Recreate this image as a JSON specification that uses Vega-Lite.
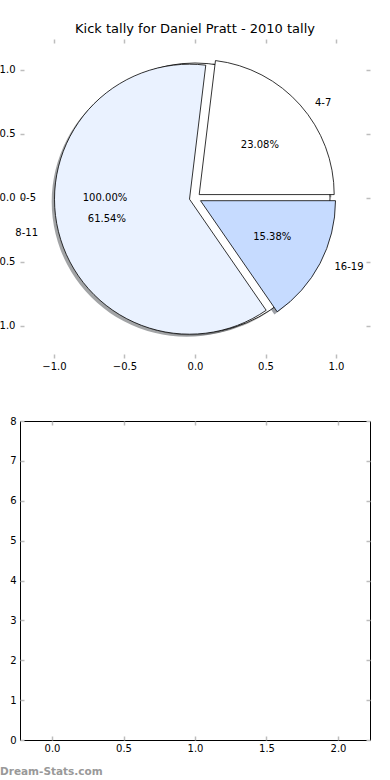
{
  "$schema": "https://vega.github.io/schema/vega-lite/v6.json",
  "autosize": {"type": "none"},
  "padding": {"left": 20, "top": 39, "right": 20, "bottom": 40},
  "params": [{"name": "width", "value": 350}, {"name": "height", "value": 701}],
  "background": "white",
  "datasets": {
    "pie": [
      {"label": "4-7", "value": 3, "pct": "23.08%", "slice": 1},
      {"label": "8-11", "value": 8, "pct": "61.54%", "slice": 2},
      {"label": "16-19", "value": 2, "pct": "15.38%", "slice": 3}
    ],
    "whole": [
      {"label": "0-5", "pct": "100.00%"}
    ]
  },
  "config": {
    "font": "DejaVu Sans",
    "axis": {
      "domain": false, "grid": false, "title": null,
      "tickColor": "#bdbdbd", "tickWidth": 1.5, "tickSize": -4,
      "labelFontSize": 10, "labelColor": "black", "labelFont": "DejaVu Sans",
      "labelFlush": false, "labelOverlap": false
    }
  },
  "vconcat": [
    {
      "width": 350,
      "height": 319,
      "view": {"stroke": null},
      "title": {"text": "Kick tally for Daniel Pratt - 2010 tally", "fontSize": 13, "font": "DejaVu Sans", "fontWeight": "normal", "color": "black", "offset": 2},
      "encoding": {
        "x": {"datum": 0, "type": "quantitative", "scale": {"domain": [-1.241, 1.241], "nice": false, "zero": false}, "axis": null},
        "y": {"datum": 0, "type": "quantitative", "scale": {"domain": [-1.25, 1.242], "nice": false, "zero": false}, "axis": null}
      },
      "resolve": {"axis": {"x": "independent", "y": "independent"}},
      "layer": [
        {
          "data": {"name": "whole"},
          "mark": {"type": "arc", "theta": 0, "theta2": 6.2832, "outerRadius": 135, "fill": "#4d4d4d", "opacity": 0.5, "xOffset": -2.8, "yOffset": 2.6},
          "encoding": {
            "x": {"datum": 0, "type": "quantitative", "scale": {"domain": [-1.241, 1.241], "nice": false, "zero": false},
                  "axis": {"orient": "bottom", "values": [-1, -0.5, 0, 0.5, 1], "format": ".1f", "labelPadding": 7}},
            "y": {"datum": 0, "type": "quantitative", "scale": {"domain": [-1.25, 1.242], "nice": false, "zero": false},
                  "axis": {"orient": "left", "values": [-1, -0.5, 0, 0.5, 1], "format": ".1f", "labelPadding": 9}}
          }
        },
        {
          "data": {"name": "pie"},
          "encoding": {
            "theta": {"field": "value", "type": "quantitative", "stack": true, "scale": {"domain": [0, 13], "range": [1.5708, -4.7124]}},
            "order": {"field": "slice", "type": "quantitative"}
          },
          "layer": [
            {"mark": {"type": "arc", "outerRadius": 135, "fill": "#4d4d4d", "xOffset": 1.4, "yOffset": -0.8},
             "encoding": {"opacity": {"condition": {"test": "datum.label === '4-7'", "value": 0.5}, "value": 0}}},
            {"mark": {"type": "arc", "outerRadius": 135, "fill": "#46494d", "xOffset": -8.3, "yOffset": 3.8},
             "encoding": {"opacity": {"condition": {"test": "datum.label === '8-11'", "value": 0.5}, "value": 0}}},
            {"mark": {"type": "arc", "outerRadius": 135, "fill": "#3b424d", "xOffset": 2.7, "yOffset": 5.3},
             "encoding": {"opacity": {"condition": {"test": "datum.label === '16-19'", "value": 0.5}, "value": 0}}}
          ]
        },
        {
          "data": {"name": "whole"},
          "mark": {"type": "arc", "theta": 0, "theta2": 6.2832, "outerRadius": 135, "fill": "white", "stroke": "black", "strokeWidth": 0.8},
          "encoding": {
            "x": {"datum": 0, "type": "quantitative", "scale": {"domain": [-1.241, 1.241], "nice": false, "zero": false},
                  "axis": {"orient": "top", "values": [-1, -0.5, 0, 0.5, 1], "labels": false}},
            "y": {"datum": 0, "type": "quantitative", "scale": {"domain": [-1.25, 1.242], "nice": false, "zero": false},
                  "axis": {"orient": "right", "values": [-1, -0.5, 0, 0.5, 1], "labels": false}}
          }
        },
        {
          "data": {"name": "pie"},
          "encoding": {
            "theta": {"field": "value", "type": "quantitative", "stack": true, "scale": {"domain": [0, 13], "range": [1.5708, -4.7124]}},
            "order": {"field": "slice", "type": "quantitative"}
          },
          "layer": [
            {"mark": {"type": "arc", "outerRadius": 135, "fill": "#ffffff", "stroke": "black", "strokeWidth": 0.8, "xOffset": 4.2, "yOffset": -3.4},
             "encoding": {"opacity": {"condition": {"test": "datum.label === '4-7'", "value": 1}, "value": 0}}},
            {"mark": {"type": "arc", "outerRadius": 135, "fill": "#eaf2ff", "stroke": "black", "strokeWidth": 0.8, "xOffset": -5.5, "yOffset": 1.2},
             "encoding": {"opacity": {"condition": {"test": "datum.label === '8-11'", "value": 1}, "value": 0}}},
            {"mark": {"type": "arc", "outerRadius": 135, "fill": "#c6dbff", "stroke": "black", "strokeWidth": 0.8, "xOffset": 5.5, "yOffset": 2.7},
             "encoding": {"opacity": {"condition": {"test": "datum.label === '16-19'", "value": 1}, "value": 0}}},
            {"mark": {"type": "text", "radius": 148, "align": "left", "baseline": "middle", "fontSize": 10, "color": "black", "xOffset": 9.2, "yOffset": 3.6},
             "encoding": {"text": {"field": "label"}, "opacity": {"condition": {"test": "datum.label === '4-7'", "value": 1}, "value": 0}}},
            {"mark": {"type": "text", "radius": 155, "align": "right", "baseline": "middle", "fontSize": 10, "color": "black", "xOffset": -6.5, "yOffset": -1.8},
             "encoding": {"text": {"field": "label"}, "opacity": {"condition": {"test": "datum.label === '8-11'", "value": 1}, "value": 0}}},
            {"mark": {"type": "text", "radius": 149, "align": "left", "baseline": "middle", "fontSize": 10, "color": "black", "xOffset": 7.5, "yOffset": -0.3},
             "encoding": {"text": {"field": "label"}, "opacity": {"condition": {"test": "datum.label === '16-19'", "value": 1}, "value": 0}}},
            {"mark": {"type": "text", "radius": 81, "align": "center", "baseline": "middle", "fontSize": 10, "color": "black", "xOffset": 4.2, "yOffset": 0.6},
             "encoding": {"text": {"field": "pct"}, "opacity": {"condition": {"test": "datum.label === '4-7'", "value": 1}, "value": 0}}},
            {"mark": {"type": "text", "radius": 81, "align": "center", "baseline": "middle", "fontSize": 10, "color": "black", "xOffset": -9.5, "yOffset": 1.2},
             "encoding": {"text": {"field": "pct"}, "opacity": {"condition": {"test": "datum.label === '8-11'", "value": 1}, "value": 0}}},
            {"mark": {"type": "text", "radius": 81, "align": "center", "baseline": "middle", "fontSize": 10, "color": "black", "xOffset": 5.5, "yOffset": 1.2},
             "encoding": {"text": {"field": "pct"}, "opacity": {"condition": {"test": "datum.label === '16-19'", "value": 1}, "value": 0}}}
          ]
        },
        {
          "data": {"name": "whole"},
          "mark": {"type": "text", "theta": 4.7124, "radius": 159, "align": "right", "baseline": "middle", "fontSize": 10, "color": "black"},
          "encoding": {"text": {"field": "label"}}
        },
        {
          "data": {"name": "whole"},
          "mark": {"type": "text", "theta": 4.7124, "radius": 90, "align": "center", "baseline": "middle", "fontSize": 10, "color": "black"},
          "encoding": {"text": {"field": "pct"}}
        }
      ]
    },
    {
      "width": 350,
      "height": 319,
      "view": {"stroke": "black", "strokeWidth": 1},
      "data": {"values": []},
      "title": {"text": "Dream-Stats.com", "orient": "bottom", "anchor": "start", "frame": "group", "dx": -20, "offset": 14, "fontSize": 10.5, "fontWeight": "bold", "color": "#999999", "font": "DejaVu Sans"},
      "resolve": {"axis": {"x": "independent", "y": "independent"}},
      "layer": [
        {
          "mark": {"type": "point", "opacity": 0},
          "encoding": {
            "x": {"datum": 1, "type": "quantitative", "scale": {"domain": [-0.2238, 2.2238], "nice": false, "zero": false},
                  "axis": {"orient": "bottom", "values": [0, 0.5, 1, 1.5, 2], "format": ".1f", "labelPadding": 7}},
            "y": {"datum": 4, "type": "quantitative", "scale": {"domain": [0, 8], "nice": false},
                  "axis": {"orient": "left", "values": [0, 1, 2, 3, 4, 5, 6, 7, 8], "format": "d", "labelPadding": 8}}
          }
        },
        {
          "mark": {"type": "point", "opacity": 0},
          "encoding": {
            "x": {"datum": 1, "type": "quantitative", "scale": {"domain": [-0.2238, 2.2238], "nice": false, "zero": false},
                  "axis": {"orient": "top", "values": [0, 0.5, 1, 1.5, 2], "labels": false}},
            "y": {"datum": 4, "type": "quantitative", "scale": {"domain": [0, 8], "nice": false},
                  "axis": {"orient": "right", "values": [0, 1, 2, 3, 4, 5, 6, 7, 8], "labels": false}}
          }
        }
      ]
    }
  ],
  "spacing": 63,
  "bounds": "flush"
}
